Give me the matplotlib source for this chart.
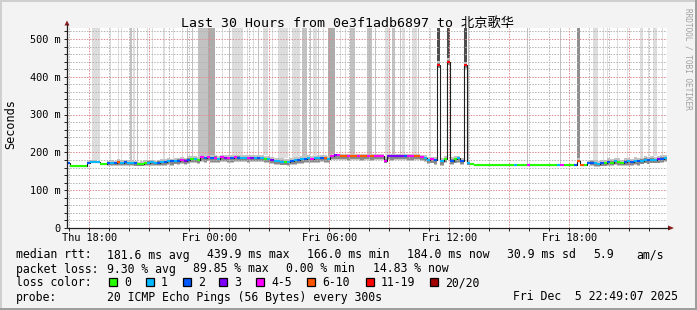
import numpy as np
import matplotlib
matplotlib.use("Agg")
import matplotlib.pyplot as plt
from matplotlib.patches import Polygon, Rectangle

# ---------------- data (10-minute samples, RTT in ms) ----------------
median = [
    172, 164, 164, 164, 164, 164, 172, 174, 174, 174,
    168, 168, 172, 173, 171, 174, 172, 174, 172, 171,
    172, 170, 170, 172, 173, 174, 172, 173, 175, 174,
    176, 176, 177, 178, 180, 178, 181, 182, 183, 180,
    188, 185, 187, 184, 186, 183, 187, 185, 186, 184,
    187, 186, 185, 186, 184, 185, 186, 184, 185, 183,
    182, 180, 178, 176, 175, 174, 175, 177, 179, 181,
    182, 183, 184, 183, 184, 185, 184, 185, 183, 191,
    192, 192, 191, 191, 191, 191, 191, 191, 191, 191,
    191, 191, 191, 191, 191, 178, 191, 191, 191, 191,
    191, 191, 191, 190, 191, 191, 189, 186, 180, 182,
    179, 432, 176, 183, 440, 178, 182, 184, 176, 430,
    172, 168, 166, 166, 166, 166, 166, 166, 166, 166,
    166, 166, 166, 166, 166, 166, 166, 166, 166, 166,
    166, 166, 166, 166, 166, 166, 166, 166, 166, 166,
    166, 166, 166, 178, 166, 166, 172, 173, 171, 170,
    172, 171, 174, 173, 176, 174, 172, 175, 176, 174,
    177, 176, 178, 180, 179, 181, 180, 182, 183, 184,
]
loss_class = [
    2, 0, 0, 0, 0, 0, 2, 1, 1, 1,
    0, 0, 2, 1, 2, 5, 1, 2, 1, 1,
    2, 0, 0, 0, 1, 1, 1, 2, 1, 2,
    1, 2, 1, 2, 4, 3, 2, 0, 1, 0,
    4, 2, 4, 2, 4, 1, 4, 3, 4, 2,
    4, 2, 1, 1, 4, 3, 1, 2, 1, 0,
    1, 3, 1, 1, 1, 0, 1, 2, 1, 2,
    1, 2, 1, 4, 1, 1, 2, 5, 1, 4,
    3, 4, 5, 5, 4, 5, 5, 4, 5, 5,
    4, 5, 4, 4, 4, 4, 3, 3, 3, 3,
    3, 2, 4, 4, 5, 5, 4, 1, 1, 4,
    2, 6, 1, 0, 6, 2, 0, 1, 2, 6,
    1, 0, 0, 0, 0, 0, 0, 0, 0, 0,
    0, 0, 0, 0, 1, 0, 0, 0, 4, 0,
    0, 0, 0, 0, 0, 0, 0, 1, 4, 0,
    0, 0, 2, 5, 5, 0, 2, 2, 1, 1,
    2, 0, 2, 0, 1, 0, 0, 2, 1, 2,
    1, 2, 1, 1, 2, 1, 1, 3, 2, 1,
]
smoke_lo = [
    3, 0, 0, 0, 0, 0, 4, 3, 3, 3,
    2, 2, 8, 9, 7, 10, 8, 9, 8, 7,
    9, 6, 7, 8, 9, 10, 8, 9, 11, 10,
    10, 11, 9, 12, 10, 11, 12, 9, 10, 11,
    13, 12, 11, 12, 13, 10, 12, 11, 13, 12,
    12, 11, 10, 12, 13, 11, 12, 10, 11, 12,
    10, 11, 12, 10, 9, 8, 10, 11, 12, 11,
    12, 11, 13, 12, 11, 12, 10, 12, 11, 12,
    13, 12, 11, 12, 13, 12, 11, 12, 13, 12,
    12, 13, 12, 11, 12, 6, 12, 13, 12, 11,
    12, 11, 13, 12, 11, 12, 13, 12, 10, 11,
    12, 10, 11, 12, 10, 12, 11, 12, 10, 10,
    6, 2, 0, 0, 0, 0, 0, 0, 0, 0,
    0, 0, 0, 0, 0, 0, 0, 0, 0, 0,
    0, 0, 0, 0, 0, 0, 0, 0, 0, 0,
    0, 0, 2, 4, 2, 0, 4, 8, 9, 8,
    9, 8, 10, 9, 10, 9, 8, 10, 11, 9,
    10, 11, 10, 9, 11, 10, 9, 11, 10, 9,
]
smoke_hi = [
    3, 0, 0, 0, 0, 0, 4, 5, 5, 4,
    3, 3, 6, 7, 6, 8, 7, 6, 7, 8,
    6, 5, 6, 7, 8, 7, 6, 8, 7, 9,
    8, 7, 9, 8, 7, 8, 9, 8, 7, 9,
    6, 8, 7, 9, 8, 7, 6, 8, 7, 9,
    7, 8, 9, 7, 8, 9, 7, 8, 9, 8,
    9, 8, 7, 8, 9, 8, 7, 9, 8, 7,
    8, 7, 9, 8, 7, 8, 9, 7, 8, 5,
    4, 5, 4, 4, 5, 4, 4, 5, 4, 4,
    5, 4, 4, 5, 4, 9, 5, 4, 4, 5,
    4, 5, 4, 5, 4, 4, 5, 6, 8, 7,
    8, 10, 9, 8, 10, 9, 8, 7, 9, 10,
    5, 2, 0, 0, 0, 0, 0, 0, 0, 0,
    0, 0, 0, 0, 0, 0, 0, 0, 0, 0,
    0, 0, 0, 0, 0, 0, 0, 0, 0, 0,
    0, 0, 3, 6, 3, 0, 5, 8, 9, 8,
    9, 8, 10, 9, 9, 10, 8, 9, 10, 9,
    10, 9, 8, 10, 9, 10, 9, 8, 10, 9,
]
# tall smoke (outlier pings above the chart top): start hour, end hour, shade
tall_start = [18.15, 19.05, 19.45, 19.60, 20.05, 20.20, 20.40, 20.90, 21.15, 21.70,
              22.20, 22.65, 22.90, 23.15, 23.45, 23.95, 24.65, 25.00, 25.15, 25.90,
              26.20, 26.45, 26.70, 27.15, 27.45, 28.15, 28.65, 29.05, 29.20, 29.45,
              29.70, 29.95, 30.55, 30.80, 31.05, 31.90, 32.30, 32.80, 33.15, 33.55,
              33.65, 34.15, 34.45, 35.05, 36.95, 39.90, 41.55, 43.20, 43.70, 43.90,
              44.40, 44.90, 45.55, 45.95, 46.20, 46.65]
tall_end = [18.55, 19.10, 19.50, 19.65, 20.15, 20.30, 20.45, 20.95, 21.20, 21.80,
            22.25, 22.70, 22.95, 23.20, 23.95, 24.30, 24.70, 25.05, 25.70, 25.95,
            26.25, 26.50, 26.95, 27.20, 27.95, 28.55, 28.90, 29.10, 29.40, 29.50,
            29.75, 30.30, 30.60, 30.85, 31.30, 32.15, 32.35, 33.05, 33.30, 33.60,
            33.80, 34.40, 34.50, 35.10, 37.00, 39.95, 41.60, 43.45, 43.75, 43.95,
            44.45, 44.95, 45.70, 46.00, 46.40, 46.70]
tall_shade = ["L", "L", "L", "L", "M", "L", "M", "L", "L", "L",
              "L", "L", "M", "M", "M", "D", "L", "M", "L", "L",
              "L", "M", "L", "L", "L", "L", "M", "M", "L", "M",
              "L", "D", "L", "L", "M", "M", "M", "L", "M", "M",
              "L", "L", "M", "L", "M", "M", "M", "L", "L", "L",
              "L", "L", "L", "L", "L", "L"]
dark_smoke_samples = [111, 114, 119]
grey_smoke_samples = [153]

loss_labels = ["0", "1", "2", "3", "4-5", "6-10", "11-19", "20/20"]
loss_colors = ["#26ff00", "#00b8ff", "#0059ff", "#7e00ff", "#ff00ff", "#ff5500", "#ff0000", "#a10000"]

y_ticks = [0, 100, 200, 300, 400, 500]
x_ticks = [18, 24, 30, 36, 42]
x_tick_labels = ["Thu 18:00", "Fri 00:00", "Fri 06:00", "Fri 12:00", "Fri 18:00"]

title = "Last 30 Hours from 0e3f1adb6897 to 北京歌华"
stat_rows = [
    [(16, "median rtt:"), (107, "181.6 ms avg"), (207, "439.9 ms max"), (307, "166.0 ms min"),
     (407, "184.0 ms now"), (507, "30.9 ms sd"), (593, "5.9"), (636, "am/s")],
    [(16, "packet loss:"), (107, "9.30 % avg"), (193, "89.85 % max"), (286, "0.00 % min"),
     (373, "14.83 % now")],
]
probe_text = "20 ICMP Echo Pings (56 Bytes) every 300s"
date_text = "Fri Dec  5 22:49:07 2025"

# ---------------- layout ----------------
W, H = 697, 310
T0 = 16.885
STEP = 1 / 6
YMAX = 529
BG = "#F3F3F3"
MONO = ["DejaVu Sans Mono", "Noto Sans CJK SC"]

fig = plt.figure(figsize=(W / 100, H / 100), dpi=100, facecolor=BG)
ax = fig.add_axes([67 / W, (H - 228) / H, 600 / W, 200 / H])
ax.set_facecolor("white")
ax.set_xlim(T0, T0 + 30)
ax.set_ylim(0, YMAX)
for s in ax.spines.values():
    s.set_visible(False)

med = np.array(median, dtype=float)
lo = np.array(smoke_lo, dtype=float)
hi = np.array(smoke_hi, dtype=float)
times = T0 + STEP * np.arange(len(med))

# tall smoke bars
shade_col = {"L": "#dddddd", "M": "#c2c2c2", "D": "#acacac"}
for s0, s1, sh in zip(tall_start, tall_end, tall_shade):
    k = int(np.clip((s0 - T0) / STEP, 0, len(med) - 1))
    b = med[k] + hi[k]
    ax.add_patch(Rectangle((s0, b), s1 - s0, YMAX - b, facecolor=shade_col[sh],
                           edgecolor="none", zorder=1))
for k in dark_smoke_samples:
    b = med[k] + hi[k] - 4
    ax.add_patch(Rectangle((times[k], b), STEP, YMAX - b, facecolor="#4d4d4d",
                           edgecolor="none", zorder=1.2))
for k in grey_smoke_samples:
    b = med[k] + hi[k]
    ax.add_patch(Rectangle((times[k], b), STEP, YMAX - b, facecolor="#8f8f8f",
                           edgecolor="none", zorder=1.2))

# smoke around the median
ax.bar(times, lo + hi, bottom=med - lo, width=STEP, align="edge",
       color="#c4c4c4", linewidth=0, zorder=1.5)
ax.bar(times, lo * 0.8 + hi * 0.4, bottom=med - lo * 0.8, width=STEP, align="edge",
       color="#8a8a8a", linewidth=0, zorder=1.6)

# grid (dotted, drawn over smoke like rrdtool)
gminor = dict(color="#b4b4b4", lw=0.72, ls=(0, (1.4, 1.4)), zorder=2.5)
gmajor = dict(color="#e08c8c", lw=0.72, ls=(0, (1.4, 1.4)), zorder=2.6)
for v in range(20, YMAX, 20):
    if v % 100:
        ax.axhline(v, **gminor)
for v in y_ticks[1:]:
    ax.axhline(v, **gmajor)
for h in range(17, 47):
    if h % 3:
        ax.axvline(h, **gminor)
for h in range(18, 47, 3):
    ax.axvline(h, **gmajor)

# median line
edges = np.append(times, times[-1] + STEP)
ax.step(edges, np.append(med, med[-1]), where="post", color="#202020", lw=0.8, zorder=3)
ax.hlines(med, times, times + STEP, colors=[loss_colors[c] for c in loss_class],
          lw=1.5, zorder=3.5)

# ticks
ax.set_yticks(y_ticks)
ax.set_yticks(range(20, YMAX, 20), minor=True)
ax.set_xticks(x_ticks)
ax.set_xticks(range(17, 47), minor=True)
ax.tick_params(which="both", direction="out", length=2.5, width=0.7, color="#202020",
               labelleft=False, labelbottom=False)

# ---------------- overlay in pixel coordinates ----------------
ov = fig.add_axes([0, 0, 1, 1], zorder=10)
ov.set_xlim(0, W)
ov.set_ylim(H, 0)
ov.axis("off")
ov.patch.set_alpha(0)

def px(h):
    return 67 + (h - T0) * 20

def py(v):
    return 228 - v * 200 / YMAX

# axes lines and arrows
ov.plot([67, 67], [228, 24], color="#202020", lw=0.9, solid_capstyle="butt")
ov.plot([67, 669], [228, 228], color="#202020", lw=0.9, solid_capstyle="butt")
ov.add_patch(Polygon([(64.5, 25.5), (69.5, 25.5), (67, 20.5)], closed=True,
                     facecolor="#8b1a1a", edgecolor="none"))
ov.add_patch(Polygon([(668, 225.5), (668, 230.5), (674, 228)], closed=True,
                     facecolor="#8b1a1a", edgecolor="none"))

# frame shading
ov.add_patch(Rectangle((0, 0), W, 2, facecolor="#cfcfcf", edgecolor="none"))
ov.add_patch(Rectangle((0, 0), 2, H, facecolor="#cfcfcf", edgecolor="none"))
ov.add_patch(Rectangle((W - 2, 0), 2, H, facecolor="#9e9e9e", edgecolor="none"))
ov.add_patch(Rectangle((0, H - 2), W, 2, facecolor="#9e9e9e", edgecolor="none"))

# texts
ov.text(347.5, 27, title, family=MONO, fontsize=9.5, ha="center", va="baseline")
ov.text(11, 124, "Seconds", family=MONO, fontsize=8.6, rotation=90,
        ha="center", va="center")
for v in y_ticks:
    lab = "0" if v == 0 else f"{v} m"
    ov.text(60.5, py(v) + 3.8, lab, family=MONO, fontsize=7.4, ha="right", va="baseline")
for h, lab in zip(x_ticks, x_tick_labels):
    ov.text(px(h), 241, lab, family=MONO, fontsize=7.4, ha="center", va="baseline")
ov.text(688, 59, "RRDTOOL / TOBI OETIKER", family=MONO, fontsize=5.6, rotation=-90,
        color="#a0a0a0", ha="center", va="center")

LF = 8.3
row_y = [258.5, 272.5, 286.5, 300.5]
for row, yb in zip(stat_rows, row_y[:2]):
    for xx, txt in row:
        ov.text(xx, yb, txt, family=MONO, fontsize=LF, ha="left", va="baseline")

ov.text(16, row_y[2], "loss color:", family=MONO, fontsize=LF, ha="left", va="baseline")
sq_x = [109, 146, 183, 219, 256, 307, 366, 430]
for xx, lab, col in zip(sq_x, loss_labels, loss_colors):
    ov.add_patch(Rectangle((xx, 278), 7.5, 8, facecolor=col, edgecolor="black", lw=0.9))
    ov.text(xx + 15, row_y[2], lab, family=MONO, fontsize=LF, ha="left", va="baseline")

ov.text(16, row_y[3], "probe:", family=MONO, fontsize=LF, ha="left", va="baseline")
ov.text(107, row_y[3], probe_text, family=MONO, fontsize=LF, ha="left", va="baseline")
ov.text(513, row_y[3], date_text, family=MONO, fontsize=LF, ha="left", va="baseline")

fig.savefig("out.png", dpi=100, facecolor=BG)
